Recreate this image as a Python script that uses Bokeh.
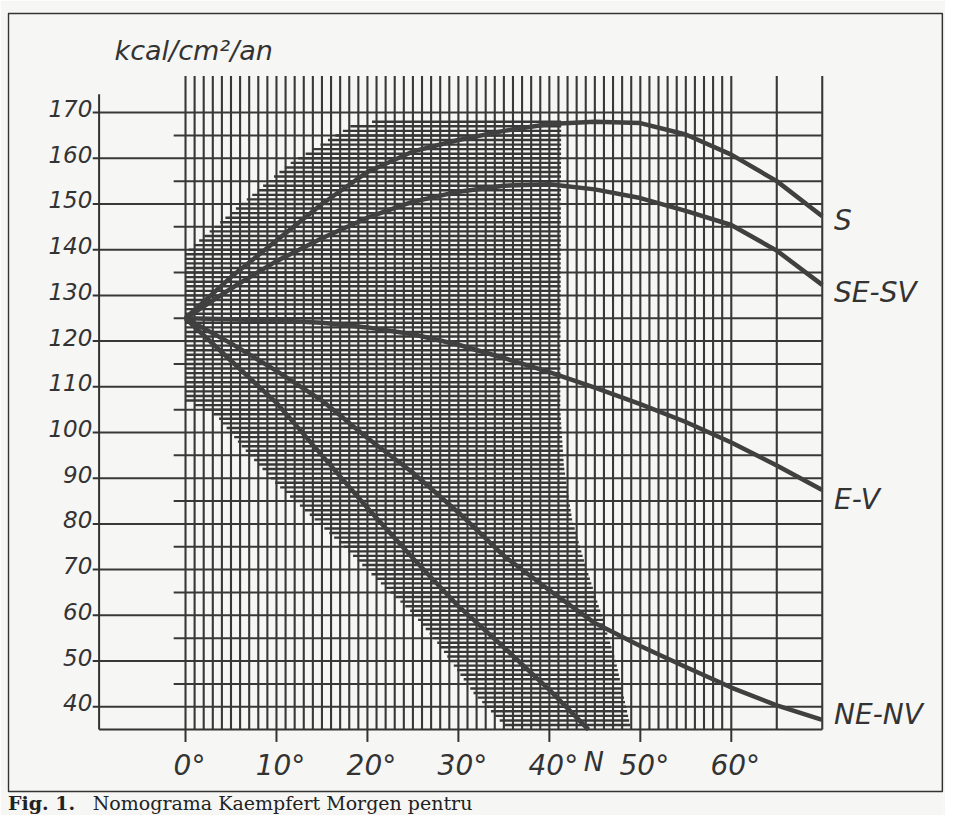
import numpy as np
from bokeh.plotting import figure
from bokeh.models import BoxAnnotation
from bokeh.core.properties import value
from bokeh.embed import file_html
from bokeh.resources import INLINE

# ---- data ----
lat = [0, 5, 10, 15, 20, 25, 30, 35, 40, 45, 50, 55, 60, 65, 70]
s_south = [125, 134, 142, 150, 157, 161.5, 164, 166, 167.5, 168, 167.7, 165.2, 160.8, 155, 147.3]
s_se_sv = [125, 131.5, 137.5, 142.5, 147, 150.5, 152.7, 154, 154.3, 153.2, 151.3, 148.5, 145.4, 139.8, 132.3]
s_e_v = [125, 124.8, 124.5, 124, 123, 121.5, 119.2, 116.3, 113.2, 109.8, 106.2, 102.3, 97.8, 92.8, 87.4]
s_ne_nv = [125, 119.5, 113.5, 107, 98.8, 91.2, 82.5, 73, 65.5, 58.3, 53.3, 48.7, 44.2, 40.3, 37.1]
lat_n = [0, 5, 10, 15, 20, 25, 30, 35, 40, 44.3]
s_north = [125, 115.7, 106.5, 95, 83.5, 72.5, 62, 53, 43.7, 35]

curve_labels = ["S", "SE-SV", "E-V", "NE-NV"]
curve_label_y = [146.3, 130.6, 85.4, 38.2]

y_ticks = [40, 50, 60, 70, 80, 90, 100, 110, 120, 130, 140, 150, 160, 170]
y_tick_labels = ["40", "50", "60", "70", "80", "90", "100", "110", "120", "130", "140", "150", "160", "170"]
x_ticks = [0, 10, 20, 30, 40, 50, 60]
x_tick_labels = ["0°", "10°", "20°", "30°", "40°", "50°", "60°"]

grid_x = list(range(0, 61)) + [65, 70]
grid_y_major = [40, 50, 60, 70, 80, 90, 100, 110, 120, 130, 140, 150, 160, 170]
grid_y_minor = [45, 55, 65, 75, 85, 95, 105, 115, 125, 135, 145, 155, 165]

# boundary of the densely ruled zone (x as a function of y)
dense_left_y = [35, 42.9, 53.7, 60.8, 67.9, 75.2, 82.3, 89.3, 96.7, 103.7, 107, 139.4, 149.1, 158.8, 167.1, 168]
dense_left_x = [35.5, 31.7, 27.8, 24.8, 21.0, 17.3, 13.5, 9.7, 6.3, 3.4, 0, 0, 5.6, 11.4, 18.2, 20.5]
dense_right_y = [35, 50, 61, 72, 81, 92.6, 105, 168]
dense_right_x = [49.0, 47.3, 45.6, 43.8, 42.5, 41.6, 41.2, 41.3]

caption_bold = "Fig. 1."
caption_text = "Nomograma Kaempfert Morgen pentru"

X_MAX = 70
Y_MIN, Y_TOP, Y_GRID_TOP = 35, 174, 178
Y_AXIS_X = -9.5
X0, X1, Y0, Y1 = -19.57, 83.33, 16.2, 191.9

INK = "#383838"
PAPER = "#f6f6f4"

p = figure(width=945, height=815, x_range=(X0, X1), y_range=(Y0, Y1),
           x_axis_type=None, y_axis_type=None, output_backend="svg",
           toolbar_location=None, min_border_left=7, min_border_right=2,
           min_border_top=12, min_border_bottom=0)
p.background_fill_color = PAPER
p.border_fill_color = PAPER
p.outline_line_color = None
p.grid.visible = False

# frame box around the figure
p.add_layout(BoxAnnotation(left=X0 + 0.1, right=X1 - 0.12, bottom=21.44, top=Y1 - 0.2,
                           fill_color=None, fill_alpha=0, line_color="#333333", line_width=1.6,
                           line_alpha=1))

# vertical rulings
p.segment(x0=grid_x, y0=[Y_MIN] * len(grid_x), x1=grid_x, y1=[Y_GRID_TOP] * len(grid_x),
          line_color=INK, line_width=2.1)
# horizontal rulings every 10 (from the axis) and every 5 (short stub)
p.segment(x0=[Y_AXIS_X] * len(grid_y_major), y0=grid_y_major, x1=[X_MAX] * len(grid_y_major),
          y1=grid_y_major, line_color=INK, line_width=2.0)
p.segment(x0=[-1.3] * len(grid_y_minor), y0=grid_y_minor, x1=[X_MAX] * len(grid_y_minor),
          y1=grid_y_minor, line_color=INK, line_width=2.0)

# dense ruling (every unit) inside the zone
levels = np.arange(36, 169)
xl = np.interp(levels, dense_left_y, dense_left_x)
xr = np.interp(levels, dense_right_y, dense_right_x)
p.segment(x0=xl, y0=levels, x1=xr, y1=levels, line_color=INK, line_width=2.4)

# axes
p.segment(x0=[Y_AXIS_X], y0=[Y_MIN], x1=[Y_AXIS_X], y1=[Y_TOP], line_color="#333333", line_width=2)
p.segment(x0=[Y_AXIS_X], y0=[Y_MIN], x1=[X_MAX], y1=[Y_MIN], line_color="#333333", line_width=2)
p.segment(x0=[Y_AXIS_X - 0.7] * len(y_ticks), y0=y_ticks, x1=[Y_AXIS_X] * len(y_ticks), y1=y_ticks,
          line_color="#333333", line_width=2)
p.segment(x0=x_ticks, y0=[Y_MIN] * len(x_ticks), x1=x_ticks, y1=[Y_MIN - 2.7] * len(x_ticks),
          line_color="#333333", line_width=2)

# curves
for ys in (s_south, s_se_sv, s_e_v, s_ne_nv):
    p.line(lat, ys, line_color="#404040", line_width=4.5, line_join="round")
p.line(lat_n, s_north, line_color="#404040", line_width=4.5, line_join="round")

FONT = value("DejaVu Sans")
p.text(x=[Y_AXIS_X - 0.75] * len(y_ticks), y=y_ticks, text=y_tick_labels, text_font=FONT,
       text_font_style="italic", text_font_size="23px", text_align="right",
       text_baseline="middle", y_offset=-4, text_color="#333333")
p.text(x=x_ticks, y=[Y_MIN] * len(x_ticks), text=x_tick_labels, text_font=FONT,
       text_font_style="italic", text_font_size="28px", text_align="center",
       text_baseline="top", x_offset=4, y_offset=19, text_color="#333333")
p.text(x=[44.9], y=[Y_MIN], text=["N"], text_font=FONT, text_font_style="italic",
       text_font_size="27px", text_align="center", text_baseline="top", y_offset=16,
       text_color="#333333")
p.text(x=[71.3] * len(curve_labels), y=curve_label_y, text=curve_labels, text_font=FONT,
       text_font_style="italic", text_font_size="28px", text_align="left",
       text_baseline="middle", text_color="#333333")
p.text(x=[-7.8], y=[183.6], text=["kcal/cm²/an"], text_font=FONT, text_font_style="italic",
       text_font_size="27px", text_align="left", text_baseline="middle", text_color="#333333")

# caption under the frame box
p.text(x=[X0 + 0.05], y=[Y0 + 0.4], text=[caption_bold], text_font=value("DejaVu Serif"),
       text_font_style="bold", text_font_size="19px", text_align="left",
       text_baseline="bottom", text_color="#222222")
p.text(x=[-10.2], y=[Y0 + 0.4], text=[caption_text], text_font=value("DejaVu Serif"),
       text_font_size="19px", text_align="left", text_baseline="bottom", text_color="#222222")

open("out.html", "w").write(file_html(p, INLINE))
